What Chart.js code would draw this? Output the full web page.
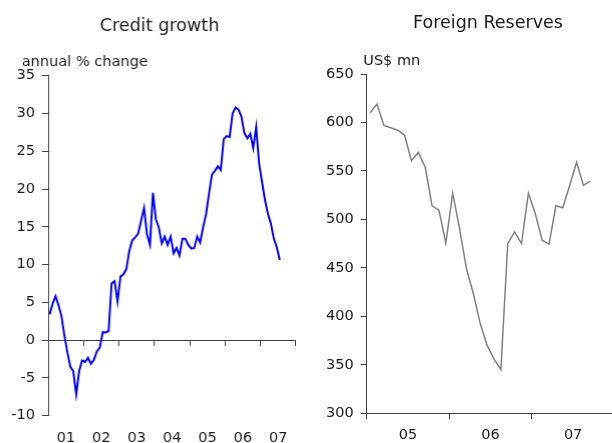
<!DOCTYPE html>
<html>
<head>
<meta charset="utf-8">
<script src="https://cdn.jsdelivr.net/npm/chart.js@4"></script>
<style>
  html, body { margin: 0; padding: 0; width: 612px; height: 443px; overflow: hidden; background: #fff; }
  .box { position: absolute; top: 0; }
  #left { left: 0; width: 300.7px; height: 461px; }
  #right { left: 320px; width: 296.4px; height: 457px; }
</style>
</head>
<body>
<div class="box" id="left"><canvas id="credit"></canvas></div>
<div class="box" id="right"><canvas id="reserves"></canvas></div>
<script>
// Credit growth, monthly, Jan 2001 - Jul 2007 (annual % change)
const creditYears = ["01", "02", "03", "04", "05", "06", "07"];
const creditGrowth = [
  3.4, 4.8, 5.8, 4.6, 3.2, 0.6, -1.6, -3.5, -4.1, -7.2, -4.1, -2.7,
  -2.9, -2.35, -3.15, -2.6, -1.5, -1.0, 1.05, 1.0, 1.2, 7.5, 7.8, 5.1,
  8.4, 8.7, 9.4, 11.8, 13.2, 13.6, 14.1, 15.8, 17.5, 14.0, 12.6, 19.5,
  16.0, 14.9, 12.8, 13.7, 12.6, 13.7, 11.5, 12.2, 11.2, 13.4, 13.4, 12.6,
  12.1, 12.2, 13.7, 12.9, 14.9, 16.6, 19.4, 21.9, 22.4, 23.0, 22.5, 26.6,
  27.0, 26.9, 30.0, 30.8, 30.5, 29.6, 27.4, 26.7, 27.3, 25.4, 28.2, 23.4,
  20.9, 18.5, 16.7, 15.4, 13.4, 12.3, 10.6
];

// Foreign reserves, monthly, Jan 2005 - Sep 2007 (US$ mn)
const reserveYears = ["05", "06", "07"];
const foreignReserves = [
  610, 619, 597, 594.5, 592, 587, 560.5, 569, 554, 514, 509.5, 475.5,
  527, 490.5, 449, 423.5, 392.5, 370, 356, 345, 475, 487, 475, 527,
  506, 478.5, 474.5, 514, 512, 535, 559, 535, 539.5
];

const FONT = '"DejaVu Sans", Verdana, sans-serif';
const TEXT = "#1a1a1a";
const AXIS = "#404040";

Chart.defaults.font.family = FONT;
Chart.defaults.font.size = 14.5;
Chart.defaults.color = TEXT;

// heading and unit text, placed from the plot area
const headings = {
  id: "headings",
  afterDraw(chart, args, opts) {
    const { ctx, chartArea } = chart;
    ctx.save();
    ctx.fillStyle = TEXT;
    ctx.textBaseline = "alphabetic";
    ctx.font = "17.5px " + FONT;
    ctx.textAlign = "center";
    ctx.fillText(opts.title, chartArea.left + opts.titleDx, opts.titleY);
    ctx.font = "14.5px " + FONT;
    ctx.textAlign = "left";
    ctx.fillText(opts.unit, chartArea.left + opts.unitDx, opts.unitY);
    ctx.restore();
  }
};

function toPoints(values) {
  return values.map((v, i) => ({ x: i + 0.5, y: v }));
}

function makeChart(id, cfg) {
  const months = cfg.years.length * 12;
  return new Chart(document.getElementById(id), {
    type: "line",
    data: {
      datasets: [{
        data: toPoints(cfg.values),
        xAxisID: "x",
        yAxisID: "y",
        borderColor: cfg.color,
        borderWidth: cfg.width,
        pointRadius: 0,
        tension: 0,
        fill: false
      }]
    },
    options: {
      responsive: true,
      maintainAspectRatio: false,
      animation: false,
      events: [],
      layout: { padding: { left: 0, right: 2, top: cfg.padTop, bottom: 0 } },
      plugins: {
        legend: { display: false },
        tooltip: { enabled: false },
        title: { display: false },
        headings: {
          title: cfg.title, titleDx: cfg.titleDx, titleY: cfg.titleY,
          unit: cfg.unit, unitDx: cfg.unitDx, unitY: cfg.unitY
        }
      },
      scales: {
        y: {
          min: cfg.yMin,
          max: cfg.yMax,
          afterFit: s => { s.width = cfg.yWidth; },
          ticks: { stepSize: cfg.yStep, padding: 7, color: TEXT },
          grid: { drawOnChartArea: false, tickLength: 6, color: AXIS },
          border: { color: AXIS, width: 1 }
        },
        x: {
          type: "linear",
          min: 0,
          max: months,
          position: { y: cfg.xCross },
          afterBuildTicks: s => {
            s.ticks = cfg.years.map((y, i) => ({ value: i * 12 })).concat([{ value: months }]);
          },
          ticks: { display: false },
          grid: { drawOnChartArea: false, tickLength: 5, color: AXIS },
          border: { color: AXIS, width: 1 }
        },
        xl: {
          type: "linear",
          min: 0,
          max: months,
          position: "bottom",
          afterBuildTicks: s => {
            s.ticks = cfg.years.map((y, i) => ({ value: i * 12 + 6 }));
          },
          ticks: {
            padding: cfg.labelPad,
            maxRotation: 0,
            autoSkip: false,
            color: TEXT,
            callback: v => cfg.years[Math.round((v - 6) / 12)]
          },
          grid: { display: false, drawTicks: false },
          border: { display: false }
        }
      }
    },
    plugins: [headings]
  });
}

makeChart("credit", {
  title: "Credit growth",
  unit: "annual % change",
  years: creditYears,
  values: creditGrowth,
  color: "#0000ff",
  width: 2,
  yMin: -10, yMax: 35, yStep: 5, xCross: 0,
  yWidth: 48, padTop: 75.7,
  titleDx: 111, titleY: 30.7,
  unitDx: -26.3, unitY: 65.7,
  labelPad: 14
});

makeChart("reserves", {
  title: "Foreign Reserves",
  unit: "US$ mn",
  years: reserveYears,
  values: foreignReserves,
  color: "#808080",
  width: 1.5,
  yMin: 300, yMax: 650, yStep: 50, xCross: 300,
  yWidth: 46.7, padTop: 74,
  titleDx: 121.3, titleY: 28.3,
  unitDx: -3.4, unitY: 65,
  labelPad: 13.2
});
</script>
</body>
</html>
